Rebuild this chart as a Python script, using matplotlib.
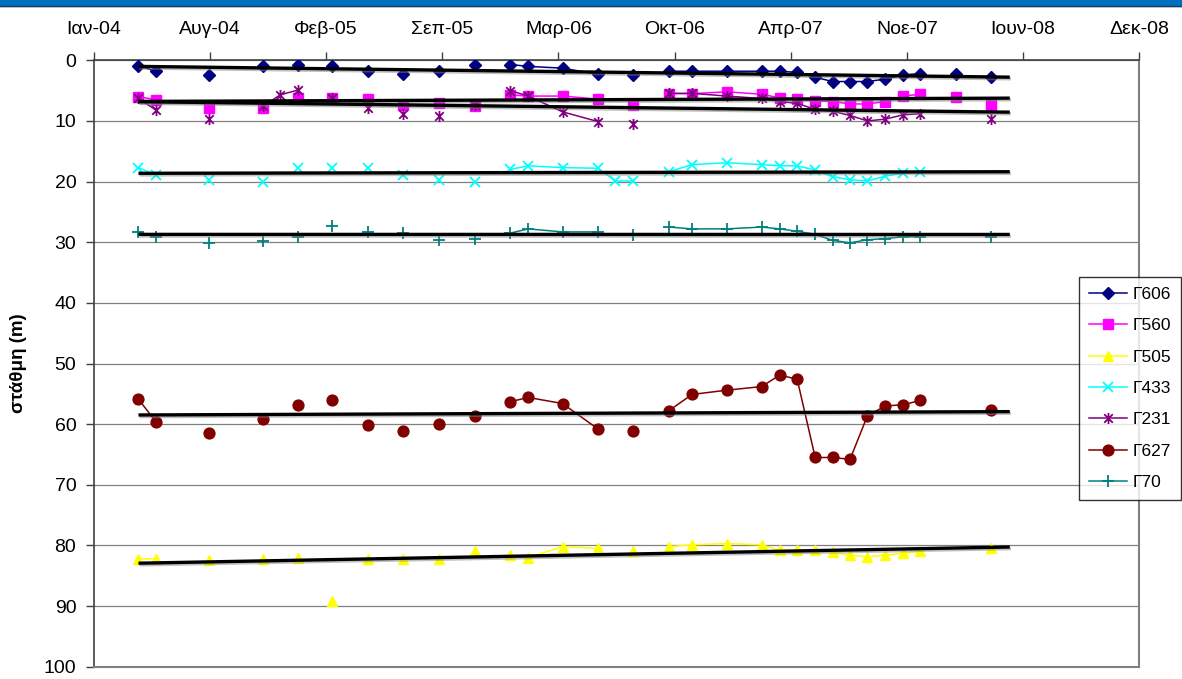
import numpy as np
import pandas as pd
import matplotlib
matplotlib.use('Agg')
import matplotlib.pyplot as plt
import matplotlib.dates as mdates
import matplotlib.patheffects as pe
from matplotlib.path import Path
from matplotlib.patches import Rectangle
from matplotlib.lines import Line2D

plt.rcParams['font.family'] = ['Liberation Sans', 'DejaVu Sans']

# ημερομηνίες του πίνακα (οι κενές γραμμές κόβουν τη γραμμή της σειράς)
dates = ['2004-04-01', '2004-05-01', '2004-06-01', '2004-08-01', '2004-09-01',
         '2004-11-01', '2004-12-01', '2005-01-01', '2005-02-01', '2005-03-01',
         '2005-04-01', '2005-05-01', '2005-06-01', '2005-07-01', '2005-08-01',
         '2005-09-01', '2005-10-01', '2005-11-01', '2005-12-01', '2006-01-01',
         '2006-02-01', '2006-04-01', '2006-06-01', '2006-07-01', '2006-08-01',
         '2006-09-01', '2006-10-01', '2006-11-10', '2007-01-09', '2007-03-10',
         '2007-04-10', '2007-05-10', '2007-06-10', '2007-07-10', '2007-08-09',
         '2007-09-08', '2007-10-09', '2007-11-08', '2007-12-08', '2008-01-08',
         '2008-02-08', '2008-03-08', '2008-04-08', '2008-05-10']

N = None
g606 = [0.9, 1.8, N, 2.4, N, 1.0, N, 0.7, N, 1.0, N, 1.8, N, 2.3, N, 1.8, N, 0.7, N, 0.7,
        1.0, 1.3, 2.3, N, 2.5, N, 1.8, 1.8, 1.8, 1.8, 1.8, 2.0, 2.8, 3.5, 3.5,
        3.5, 3.1, 2.4, 2.2, N, 2.2, N, 2.7, N]
g560 = [6.0, 6.5, N, 7.9, N, 7.9, N, 6.3, N, 6.3, N, 6.4, N, 7.4, N, 7.1, N, 7.6, N, 5.7,
        5.9, 5.9, 6.4, N, 7.3, N, 5.5, 5.5, 5.2, 5.6, 6.2, 6.4, 6.7, 6.8, 7.2,
        7.2, 6.8, 5.9, 5.6, N, 6.0, N, 7.4, N]
g505 = [82.2, 82.2, N, 82.4, N, 82.2, N, 82.0, N, 89.2, N, 82.2, N, 82.2, N, 82.2, N, 80.9, N, 81.5,
        82.0, 80.2, 80.5, N, 80.9, N, 80.2, 79.9, 79.7, 79.9, 80.8, 80.8, 80.8, 81.1, 81.6,
        81.9, 81.6, 81.3, 81.0, N, N, N, 80.5, N]
g433 = [17.7, 18.9, N, 19.7, N, 20.1, N, 17.7, N, 17.7, N, 17.8, N, 18.9, N, 19.7, N, 20.1, N, 18.0,
        17.4, 17.7, 17.8, 19.9, 19.9, N, 18.4, 17.2, 16.9, 17.2, 17.4, 17.4, 18.1, 19.2, 19.7,
        19.9, 19.1, 18.6, 18.4, N, N, N, N, N]
g231 = [6.3, 8.2, N, 9.6, N, 7.6, 5.7, 4.9, N, 6.3, N, 7.9, N, 8.8, N, 9.2, N, 7.4, N, 5.0,
        5.9, 8.5, 10.1, N, 10.5, N, 5.45, 5.45, 5.9, 6.3, 6.8, 7.1, 8.1, 8.4, 9.1,
        10.0, 9.7, 9.0, 8.8, N, N, N, 9.6, N]
g627 = [55.9, 59.6, N, 61.4, N, 59.2, N, 56.8, N, 56.1, N, 60.1, N, 61.1, N, 59.9, N, 58.6, N, 56.3,
        55.6, 56.6, 60.8, N, 61.1, N, 57.8, 55.1, 54.4, 53.8, 51.9, 52.6, 65.5, 65.5, 65.8,
        58.6, 57.0, 56.8, 56.1, N, N, N, 57.6, N]
g70 = [28.3, 29.1, N, 30.1, N, 29.8, N, 29.1, N, 27.3, N, 28.3, N, 28.5, N, 29.6, N, 29.5, N, 28.5,
       27.8, 28.3, 28.3, N, 28.8, N, 27.5, 27.8, 27.8, 27.5, 27.8, 28.2, 28.7, 29.7, 30.1,
       29.6, 29.4, 29.1, 29.1, N, N, N, 29.1, N]

tick_labels = ['Ιαν-04', 'Αυγ-04', 'Φεβ-05', 'Σεπ-05', 'Μαρ-06',
               'Οκτ-06', 'Απρ-07', 'Νοε-07', 'Ιουν-08', 'Δεκ-08']

# αστεράκι τύπου Excel: Χ με κάθετη γραμμή
star = Path([(-1, -1), (1, 1), (-1, 1), (1, -1), (0, -1.3), (0, 1.3)],
            [Path.MOVETO, Path.LINETO] * 3)

series = [
    ('Γ606', g606, '#000080', 'D', 5.8),
    ('Γ560', g560, '#FF00FF', 's', 7.2),
    ('Γ505', g505, '#FFFF00', '^', 7.8),
    ('Γ433', g433, '#00FFFF', 'x', 7.2),
    ('Γ231', g231, '#800080', star, 8.0),
    ('Γ627', g627, '#800000', 'o', 7.8),
    ('Γ70', g70, '#008080', '+', 8.5),
]

x = mdates.date2num(pd.to_datetime(dates))
start = pd.Timestamp('2004-01-15')
ticks = mdates.date2num([start + pd.Timedelta(days=200 * k) for k in range(10)])

fig = plt.figure(figsize=(11.82, 6.79), dpi=100)
fig.patches.append(Rectangle((0, 1 - 5.5 / 679), 1, 5.5 / 679,
                             transform=fig.transFigure, color='#0070C0'))
fig.lines.append(Line2D([0, 1], [1 - 6.2 / 679] * 2, transform=fig.transFigure,
                        color='#1F3864', lw=1.0))

ax = fig.add_axes([0.0793, 0.0181, 0.8846, 0.8931])

handles = []
for name, vals, col, mk, ms in series:
    y = np.array(vals, dtype=float)
    mew = 1.3 if mk in ('x', '+') or mk is star else 1.0
    h, = ax.plot(x, y, color=col, lw=1.1, marker=mk, ms=ms, mfc=col, mec=col,
                 mew=mew, label=name, zorder=3)
    handles.append(h)
    # γραμμική τάση
    ok = ~np.isnan(y)
    k, b = np.polyfit(x[ok], y[ok], 1)
    xs = np.array([x[0], x[-1]])
    ax.plot(xs, k * xs + b, color='black', lw=2.4, zorder=4, solid_capstyle='butt',
            path_effects=[pe.SimpleLineShadow(offset=(0.8, -1.2), shadow_color='#808080', alpha=0.5),
                          pe.Normal()])

ax.set_xlim(ticks[0], ticks[-1])
ax.set_ylim(100, 0)
ax.set_yticks(np.arange(0, 101, 10))
ax.set_xticks(ticks)
ax.set_xticklabels(tick_labels)
ax.xaxis.tick_top()
ax.tick_params(axis='x', direction='out', length=6, width=1, color='#404040',
               labelsize=14, pad=10)
ax.tick_params(axis='y', direction='out', length=5.5, width=1, color='#404040',
               labelsize=14, pad=7)
ax.yaxis.grid(True, color='#808080', lw=0.9)
ax.set_axisbelow(True)

for side in ('left', 'top'):
    ax.spines[side].set_color('#404040')
    ax.spines[side].set_linewidth(1.2)
for side in ('right', 'bottom'):
    ax.spines[side].set_color('#808080')
    ax.spines[side].set_linewidth(1.5)

ax.set_ylabel('στάθμη (m)', fontsize=13.5, fontweight='bold')
ax.yaxis.set_label_coords(-0.064, 0.5)

leg = fig.legend(handles=handles, loc='upper left', bbox_to_anchor=(0.9131, 0.5916),
                 fontsize=12.5, frameon=True, fancybox=False, borderaxespad=0,
                 borderpad=0.56, labelspacing=0.93, handlelength=2.2,
                 handletextpad=0.3)
leg.get_frame().set_edgecolor('black')
leg.get_frame().set_linewidth(1.0)

plt.savefig('out.png', dpi=100)
